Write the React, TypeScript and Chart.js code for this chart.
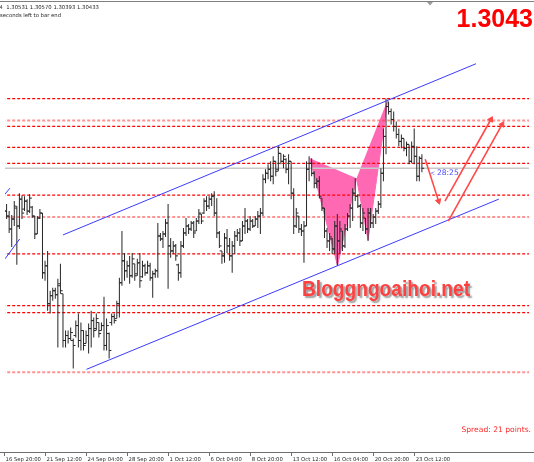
import { useEffect, useRef } from 'react';
import { Chart, registerables } from 'chart.js';

Chart.register(...registerables);

// ---------------- data ----------------
const SYMBOL_INFO = '4  1.30531 1.30570 1.30393 1.30433';
const COUNTDOWN_INFO = 'seconds left to bar end';
const BIG_PRICE = '1.3043';
const SPREAD_TEXT = 'Spread: 21 points.';
const WATERMARK = 'Bloggngoaihoi.net';
const TIMER_MARK = '<';
const TIMER_TEXT = '28:25';

const TIME_LABELS = [
  '16 Sep 20:00', '21 Sep 12:00', '24 Sep 04:00', '28 Sep 20:00', '1 Oct 12:00', '6 Oct 04:00',
  '8 Oct 20:00', '13 Oct 12:00', '16 Oct 04:00', '20 Oct 20:00', '23 Oct 12:00',
];
const BARS_PER_LABEL = 16;

const OPEN = [
  1.2995, 1.3000, 1.2995, 1.2982, 1.2992, 1.3003, 1.2985, 1.3012, 1.3002, 1.3010,
  1.3000, 1.3004, 1.2995, 1.2977, 1.2993, 1.2998, 1.2938, 1.2945, 1.2907, 1.2915,
  1.2920, 1.2916, 1.2927, 1.2917, 1.2870, 1.2875, 1.2872, 1.2870, 1.2875, 1.2885,
  1.2870, 1.2880, 1.2867, 1.2875, 1.2882, 1.2890, 1.2882, 1.2888, 1.2880, 1.2885,
  1.2865, 1.2877, 1.2888, 1.2894, 1.2892, 1.2907, 1.2928, 1.2950, 1.2940, 1.2945,
  1.2935, 1.2947, 1.2937, 1.2948, 1.2934, 1.2945, 1.2938, 1.2945, 1.2933, 1.2937,
  1.2940, 1.2975, 1.2972, 1.2977, 1.2988, 1.2965, 1.2960, 1.2965, 1.2946, 1.2938,
  1.2965, 1.2978, 1.2985, 1.2982, 1.2988, 1.2980, 1.2990, 1.2997, 1.2998, 1.3010,
  1.3005, 1.3012, 1.3015, 1.2998, 1.2978, 1.2960, 1.2955, 1.2973, 1.2965, 1.2955,
  1.2965, 1.2975, 1.2978, 1.2970, 1.2985, 1.2990, 1.2982, 1.2990, 1.2985, 1.2992,
  1.2995, 1.2998, 1.3032, 1.3038, 1.3042, 1.3035, 1.3050, 1.3042, 1.3058, 1.3050,
  1.3052, 1.3042, 1.3050, 1.3018, 1.2985, 1.2995, 1.2982, 1.2980, 1.2985, 1.3042,
  1.3048, 1.3038, 1.3028, 1.3030, 1.3013, 1.3003, 1.2980, 1.2970, 1.2972, 1.2962,
  1.2985, 1.2970, 1.2980, 1.2965, 1.2982, 1.2995, 1.3003, 1.3018, 1.3015, 1.3005,
  1.2988, 1.2993, 1.2982, 1.2998, 1.2988, 1.2994, 1.3000, 1.3007, 1.3038, 1.3075,
  1.3105, 1.3100, 1.3092, 1.3085, 1.3077, 1.3070, 1.3073, 1.3063, 1.3067, 1.3050,
  1.3065, 1.3055, 1.3035, 1.3053,
];
const HIGH = [
  1.3004, 1.3007, 1.3000, 1.2996, 1.3010, 1.3005, 1.3018, 1.3016, 1.3015, 1.3012,
  1.3017, 1.3005, 1.2995, 1.2995, 1.3002, 1.2998, 1.2950, 1.2960, 1.2920, 1.2923,
  1.2923, 1.2932, 1.2947, 1.2917, 1.2880, 1.2880, 1.2883, 1.2872, 1.2890, 1.2897,
  1.2888, 1.2880, 1.2880, 1.2887, 1.2900, 1.2893, 1.2897, 1.2888, 1.2888, 1.2914,
  1.2892, 1.2878, 1.2897, 1.2897, 1.2910, 1.2933, 1.2980, 1.2958, 1.2950, 1.2955,
  1.2958, 1.2947, 1.2952, 1.2958, 1.2950, 1.2947, 1.2950, 1.2948, 1.2940, 1.2942,
  1.2988, 1.2978, 1.2980, 1.2992, 1.3007, 1.2973, 1.2970, 1.2967, 1.2947, 1.2970,
  1.2983, 1.2993, 1.2987, 1.2990, 1.2990, 1.2993, 1.3002, 1.2997, 1.3013, 1.3015,
  1.3015, 1.3018, 1.3020, 1.3013, 1.2980, 1.2960, 1.2978, 1.2982, 1.2973, 1.2970,
  1.2980, 1.2982, 1.2983, 1.2990, 1.3003, 1.2992, 1.2995, 1.2992, 1.2995, 1.3000,
  1.3003, 1.3037, 1.3042, 1.3047, 1.3050, 1.3055, 1.3050, 1.3065, 1.3058, 1.3057,
  1.3053, 1.3057, 1.3050, 1.3023, 1.3003, 1.2995, 1.2987, 1.2990, 1.3050, 1.3055,
  1.3053, 1.3040, 1.3033, 1.3035, 1.3013, 1.3003, 1.2983, 1.2978, 1.2973, 1.2990,
  1.2997, 1.2990, 1.2980, 1.2987, 1.2998, 1.3007, 1.3023, 1.3033, 1.3017, 1.3007,
  1.3003, 1.2993, 1.3003, 1.3003, 1.2997, 1.3003, 1.3010, 1.3043, 1.3083, 1.3113,
  1.3110, 1.3103, 1.3100, 1.3090, 1.3083, 1.3077, 1.3073, 1.3070, 1.3067, 1.3070,
  1.3083, 1.3065, 1.3055, 1.3057,
];
const LOW = [
  1.2988, 1.2992, 1.2978, 1.2964, 1.2985, 1.2946, 1.2982, 1.2992, 1.3000, 1.2996,
  1.2998, 1.2993, 1.2972, 1.2977, 1.2992, 1.2932, 1.2930, 1.2900, 1.2897, 1.2910,
  1.2912, 1.2863, 1.2917, 1.2863, 1.2863, 1.2867, 1.2870, 1.2842, 1.2873, 1.2863,
  1.2860, 1.2860, 1.2867, 1.2857, 1.2863, 1.2873, 1.2880, 1.2873, 1.2880, 1.2860,
  1.2860, 1.2852, 1.2885, 1.2887, 1.2892, 1.2893, 1.2925, 1.2930, 1.2933, 1.2927,
  1.2933, 1.2930, 1.2935, 1.2923, 1.2933, 1.2935, 1.2937, 1.2930, 1.2913, 1.2933,
  1.2933, 1.2970, 1.2963, 1.2974, 1.2922, 1.2953, 1.2957, 1.2950, 1.2930, 1.2933,
  1.2963, 1.2975, 1.2977, 1.2980, 1.2973, 1.2980, 1.2987, 1.2987, 1.2997, 1.3000,
  1.3002, 1.3005, 1.2995, 1.2973, 1.2963, 1.2947, 1.2948, 1.2958, 1.2950, 1.2938,
  1.2957, 1.2970, 1.2965, 1.2970, 1.2977, 1.2978, 1.2980, 1.2983, 1.2985, 1.2983,
  1.2977, 1.2995, 1.3028, 1.3032, 1.3030, 1.3027, 1.3035, 1.3040, 1.3047, 1.3043,
  1.3038, 1.3027, 1.3012, 1.2977, 1.2983, 1.2978, 1.2975, 1.2948, 1.2985, 1.3030,
  1.3035, 1.3023, 1.3023, 1.3013, 1.3000, 1.2973, 1.2963, 1.2960, 1.2957, 1.2957,
  1.2945, 1.2957, 1.2960, 1.2963, 1.2980, 1.2983, 1.2990, 1.3010, 1.3003, 1.2983,
  1.2980, 1.2977, 1.2970, 1.2983, 1.2983, 1.2987, 1.2997, 1.3003, 1.3030, 1.3057,
  1.3097, 1.3087, 1.3080, 1.3073, 1.3065, 1.3063, 1.3060, 1.3055, 1.3047, 1.3048,
  1.3047, 1.3030, 1.3030, 1.3039,
];
const CLOSE = [
  1.3000, 1.2995, 1.2982, 1.2992, 1.3005, 1.2985, 1.3012, 1.2998, 1.3010, 1.3000,
  1.3013, 1.2995, 1.2977, 1.2993, 1.2998, 1.2938, 1.2945, 1.2907, 1.2915, 1.2920,
  1.2916, 1.2925, 1.2920, 1.2870, 1.2875, 1.2872, 1.2878, 1.2865, 1.2885, 1.2870,
  1.2880, 1.2865, 1.2875, 1.2882, 1.2890, 1.2880, 1.2892, 1.2877, 1.2885, 1.2865,
  1.2885, 1.2860, 1.2894, 1.2890, 1.2907, 1.2928, 1.2950, 1.2940, 1.2945, 1.2935,
  1.2952, 1.2935, 1.2948, 1.2930, 1.2945, 1.2938, 1.2945, 1.2933, 1.2937, 1.2940,
  1.2975, 1.2972, 1.2977, 1.2988, 1.2965, 1.2960, 1.2965, 1.2955, 1.2938, 1.2965,
  1.2978, 1.2985, 1.2982, 1.2988, 1.2978, 1.2990, 1.2998, 1.2990, 1.3010, 1.3005,
  1.3012, 1.3015, 1.2998, 1.2978, 1.2965, 1.2955, 1.2973, 1.2965, 1.2955, 1.2965,
  1.2975, 1.2978, 1.2970, 1.2985, 1.2990, 1.2982, 1.2990, 1.2985, 1.2992, 1.2995,
  1.2998, 1.3032, 1.3038, 1.3042, 1.3035, 1.3050, 1.3040, 1.3058, 1.3050, 1.3055,
  1.3042, 1.3050, 1.3018, 1.2985, 1.2998, 1.2982, 1.2980, 1.2985, 1.3042, 1.3048,
  1.3038, 1.3028, 1.3030, 1.3015, 1.3003, 1.2980, 1.2970, 1.2974, 1.2962, 1.2985,
  1.2970, 1.2982, 1.2965, 1.2982, 1.2995, 1.3003, 1.3018, 1.3015, 1.3005, 1.2988,
  1.2998, 1.2982, 1.2998, 1.2988, 1.2994, 1.3000, 1.3007, 1.3038, 1.3075, 1.3105,
  1.3100, 1.3092, 1.3085, 1.3077, 1.3070, 1.3073, 1.3063, 1.3067, 1.3050, 1.3065,
  1.3055, 1.3035, 1.3053, 1.3043,
];

const SOLID_LEVELS = [1.3113, 1.3085, 1.3064, 1.3048, 1.3016, 1.2957, 1.2905, 1.2898];
const FAINT_LEVELS = [1.3091, 1.2994, 1.2838];
const CURRENT_PRICE = 1.3043;

// [bar index, price]
const CHANNEL_UPPER = [[22.97, 1.2976], [184.1, 1.3148]];
const CHANNEL_LOWER = [[32.15, 1.2841], [193.0, 1.3012]];
const OLD_LINE_A = [[0.38, 1.3017], [2.3, 1.3023]];
const OLD_LINE_B = [[0.38, 1.2952], [6.12, 1.2972]];
const PATTERN_XAB = [[119.3, 1.3053], [130.1, 1.2945], [137.5, 1.3033]];
const PATTERN_BCD = [[137.5, 1.3033], [142.0, 1.2971], [149.7, 1.3112]];
const ARROW_DOWN = [[164.3, 1.3052], [169.5, 1.3010]];
const ARROW_UP_A = [[172.0, 1.3010], [189.9, 1.3092]];
const ARROW_UP_B = [[173.3, 1.2990], [194.3, 1.3087]];

// visible window of the chart
const X_MIN = 0.383;
const X_MAX = 204.78;
const Y_MIN = 1.2757;
const Y_MAX = 1.3207;

const toPts = (arr: number[][]) => arr.map(([x, y]) => ({ x, y }));

const overlayPlugin = {
  id: 'overlay',
  afterDraw(chart: any) {
    const { ctx, width } = chart;
    const xs = chart.scales.x;
    const ys = chart.scales.y;
    ctx.save();

    // top frame
    ctx.fillStyle = '#7f7f7f';
    ctx.fillRect(0, 1, width, 1);
    // chart shift marker
    ctx.fillStyle = '#9a9a9a';
    ctx.beginPath();
    ctx.moveTo(427, 2);
    ctx.lineTo(433, 2);
    ctx.lineTo(430, 5.5);
    ctx.closePath();
    ctx.fill();

    // time axis
    ctx.fillStyle = '#6e6e6e';
    ctx.fillRect(0, 452, width, 1);
    ctx.font = '5.3px "DejaVu Sans"';
    ctx.textBaseline = 'alphabetic';
    ctx.textAlign = 'left';
    TIME_LABELS.forEach((lab, k) => {
      const px = xs.getPixelForValue(k * BARS_PER_LABEL);
      ctx.fillStyle = '#6e6e6e';
      ctx.fillRect(Math.round(px), 453, 1, 3);
      ctx.fillStyle = '#2b2b2b';
      ctx.fillText(lab, px + 1.5, 460.5);
    });

    // header
    ctx.fillStyle = '#1e1e1e';
    ctx.fillText(SYMBOL_INFO, -0.5, 8.8);
    ctx.fillText(COUNTDOWN_INFO, 0, 17);

    // big price
    ctx.font = 'bold 25px "Liberation Sans"';
    ctx.fillStyle = '#ff0000';
    ctx.textAlign = 'right';
    ctx.fillText(BIG_PRICE, 533, 27);

    // spread
    ctx.font = '7.6px "DejaVu Sans"';
    ctx.fillStyle = '#ff2a2a';
    ctx.fillText(SPREAD_TEXT, 531, 432);

    // bar timer next to last bar
    ctx.textAlign = 'left';
    ctx.fillStyle = '#4b4bff';
    const lastX = xs.getPixelForValue(HIGH.length - 1);
    const ty = ys.getPixelForValue(CURRENT_PRICE) + 7;
    ctx.font = '6px "DejaVu Sans"';
    ctx.fillText(TIMER_MARK, lastX + 8, ty - 0.5);
    ctx.font = '7.6px "DejaVu Sans"';
    ctx.fillText(TIMER_TEXT, lastX + 15, ty);

    // watermark
    ctx.font = 'bold 22px "Liberation Sans"';
    const w = ctx.measureText(WATERMARK).width;
    ctx.save();
    ctx.translate(302, 296);
    ctx.scale(168 / w, 1);
    ctx.shadowColor = 'rgba(60,60,60,0.5)';
    ctx.shadowOffsetX = 2;
    ctx.shadowOffsetY = 2;
    ctx.shadowBlur = 1.5;
    ctx.fillStyle = '#ff4040';
    ctx.fillText(WATERMARK, 0, 0);
    ctx.restore();

    ctx.restore();
  },
};

export default function App() {
  const ref = useRef<HTMLCanvasElement>(null);

  useEffect(() => {
    const canvas = ref.current;
    if (!canvas) return;
    const n = HIGH.length;
    const idx = Array.from({ length: n }, (_, i) => i);
    const TICK_OFFSET = 0.45;

    const hline = (p: number) => [{ x: X_MIN - 5, y: p }, { x: X_MAX + 5, y: p }];
    const lineDs = (data: any[], color: string, width: number, dash: number[], order: number) => ({
      type: 'line',
      data,
      borderColor: color,
      backgroundColor: color,
      borderWidth: width,
      borderDash: dash,
      pointRadius: 0,
      pointHoverRadius: 0,
      fill: false,
      tension: 0,
      order,
    });
    const arrowDs = (arr: number[][], rotation: number) => ({
      type: 'line',
      data: toPts(arr),
      borderColor: '#ff4848',
      backgroundColor: '#ff4848',
      borderWidth: 1.6,
      pointRadius: [0, 3.2],
      pointStyle: 'triangle',
      pointRotation: [0, rotation],
      pointBackgroundColor: '#ff4848',
      pointBorderColor: '#ff4848',
      pointBorderWidth: 1,
      fill: false,
      tension: 0,
      order: 1,
    });
    const PINK = '#ff69b4';
    const BAR = '#262626';

    const datasets: any[] = [
      {
        type: 'bar',
        data: idx.map((i) => ({ x: i, y: [LOW[i], HIGH[i]] })),
        backgroundColor: BAR,
        borderColor: BAR,
        borderWidth: 0,
        barThickness: 1,
        inflateAmount: 0,
        grouped: false,
        order: 5,
      },
      {
        type: 'scatter',
        data: idx.map((i) => ({ x: i - TICK_OFFSET, y: OPEN[i] })),
        backgroundColor: BAR, borderColor: BAR,
        pointStyle: 'line', pointRadius: 1.1, pointBorderColor: BAR, pointBorderWidth: 1,
        showLine: false, order: 4,
      },
      {
        type: 'scatter',
        data: idx.map((i) => ({ x: i + TICK_OFFSET, y: CLOSE[i] })),
        backgroundColor: BAR, borderColor: BAR,
        pointStyle: 'line', pointRadius: 1.1, pointBorderColor: BAR, pointBorderWidth: 1,
        showLine: false, order: 4,
      },
      {
        type: 'line', data: toPts(PATTERN_XAB), fill: 'shape', backgroundColor: PINK,
        borderColor: PINK, borderWidth: 1, pointRadius: 0, tension: 0, order: 10,
      },
      {
        type: 'line', data: toPts(PATTERN_BCD), fill: 'shape', backgroundColor: PINK,
        borderColor: PINK, borderWidth: 1, pointRadius: 0, tension: 0, order: 10,
      },
      lineDs(toPts(CHANNEL_UPPER), '#3b3bff', 1, [], 3),
      lineDs(toPts(CHANNEL_LOWER), '#3b3bff', 1, [], 3),
      lineDs(toPts(OLD_LINE_A), '#3b3bff', 1, [], 3),
      lineDs(toPts(OLD_LINE_B), '#3b3bff', 1, [], 3),
      arrowDs(ARROW_DOWN, 162),
      arrowDs(ARROW_UP_A, 30),
      arrowDs(ARROW_UP_B, 30),
      lineDs(hline(CURRENT_PRICE), '#c8c8c8', 1.3, [], 9),
      ...SOLID_LEVELS.map((p) => lineDs(hline(p), 'rgb(255,0,0)', 1.3, [3, 2], 8)),
      ...FAINT_LEVELS.map((p) => lineDs(hline(p), 'rgba(255,40,40,0.5)', 2, [3, 2], 8)),
    ];

    const chart = new Chart(canvas, {
      type: 'bar',
      data: { datasets },
      options: {
        responsive: false,
        animation: false,
        devicePixelRatio: 1,
        events: [],
        layout: { padding: { left: 0, right: 0, top: 3, bottom: 9 } },
        scales: {
          x: { type: 'linear', display: false, min: X_MIN, max: X_MAX, offset: false },
          y: { type: 'linear', display: false, min: Y_MIN, max: Y_MAX },
        },
        plugins: {
          legend: { display: false },
          tooltip: { enabled: false },
          title: { display: false },
          colors: { enabled: false },
        },
      } as any,
      plugins: [overlayPlugin],
    } as any);

    return () => chart.destroy();
  }, []);

  return (
    <div style={{ position: 'fixed', left: 0, top: 0, width: 534, height: 462, background: '#ffffff' }}>
      <canvas ref={ref} width={534} height={462} style={{ display: 'block', width: 534, height: 462 }} />
    </div>
  );
}
